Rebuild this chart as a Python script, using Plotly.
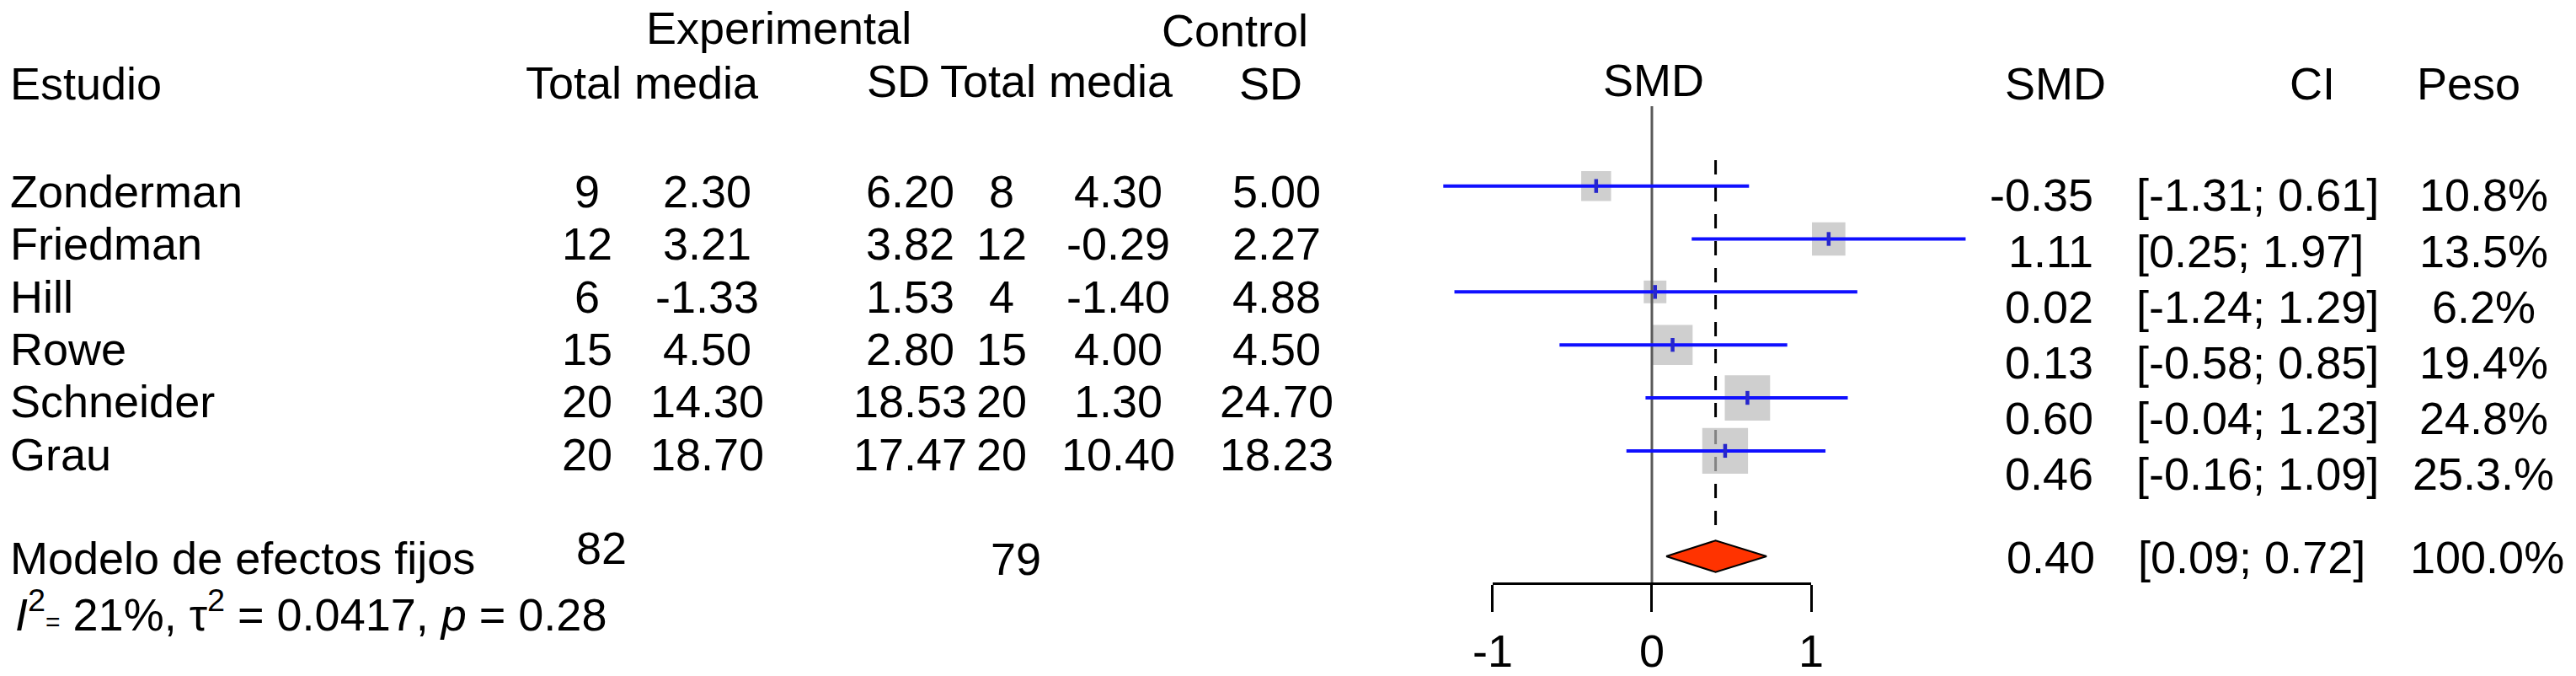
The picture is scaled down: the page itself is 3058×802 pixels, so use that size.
import math
import plotly.graph_objects as go

# ---------------- data ----------------
studies = ["Zonderman", "Friedman", "Hill", "Rowe", "Schneider", "Grau"]
exp_total = [9, 12, 6, 15, 20, 20]
exp_mean = ["2.30", "3.21", "-1.33", "4.50", "14.30", "18.70"]
exp_sd = ["6.20", "3.82", "1.53", "2.80", "18.53", "17.47"]
ctrl_total = [8, 12, 4, 15, 20, 20]
ctrl_mean = ["4.30", "-0.29", "-1.40", "4.00", "1.30", "10.40"]
ctrl_sd = ["5.00", "2.27", "4.88", "4.50", "24.70", "18.23"]
smd = [-0.35, 1.11, 0.02, 0.13, 0.60, 0.46]
ci_lo = [-1.31, 0.25, -1.24, -0.58, -0.04, -0.16]
ci_hi = [0.61, 1.97, 1.29, 0.85, 1.23, 1.09]
weight = [10.8, 13.5, 6.2, 19.4, 24.8, 25.3]
weight_labels = ["10.8%", "13.5%", "6.2%", "19.4%", "24.8%", "25.3.%"]
pooled_label = "Modelo de efectos fijos"
pooled_smd = 0.40
pooled_lo = 0.09
pooled_hi = 0.72
pooled_weight_label = "100.0%"
exp_n_total = 82
ctrl_n_total = 79
heterogeneity = ("<i>I</i><sup>2</sup><span style='font-size:30px'>=</span> 21%, "
                 "\u03c4<sup>2</sup> = 0.0417, <i>p</i> = 0.28")
x_tick_vals = [-1, 0, 1]
x_tick_text = ["-1", "0", "1"]

# ---------------- layout constants ----------------
W, H = 3058, 802
FONT = "Liberation Sans, Arial, Helvetica, sans-serif"
FS = 54
ROW0_PX, ROW_PX = 224.0, 63.8          # forest rows
X_ZERO_PX, X_UNIT_PX = 1962.0, 191.5    # forest x scale
LEFT_PX = -14                           # left edge of the study column


def yrow(px):
    return (px - ROW0_PX) / ROW_PX


x0 = -X_ZERO_PX / X_UNIT_PX
x1 = x0 + W / X_UNIT_PX
y_top = yrow(0)
y_bot = yrow(H)

rows = list(range(len(studies)))
left_text_y = [230.0 + 63.43 * i for i in rows]
right_text_y = [235.0 + 67.14 * i for i in rows]
sum_row = yrow(670)

fig = go.Figure()

# dashed pooled line
fig.add_trace(go.Scatter(x=[pooled_smd, pooled_smd], y=[yrow(193), yrow(635)], mode="lines",
                         line=dict(color="black", width=3, dash="17px,15px"), hoverinfo="skip"))
# squares
fig.add_trace(go.Scatter(x=smd, y=rows, mode="markers",
                         marker=dict(symbol="square", color="#bababa",
                                     size=[10.8 * math.sqrt(w) for w in weight], line=dict(width=0)),
                         hoverinfo="skip"))
# zero line
fig.add_trace(go.Scatter(x=[0, 0], y=[yrow(128), yrow(703)], mode="lines",
                         line=dict(color="#5a5a5a", width=3), hoverinfo="skip"))
# CI lines
cx, cy = [], []
for lo, hi, r in zip(ci_lo, ci_hi, rows):
    cx += [lo, hi, None]
    cy += [r, r, None]
fig.add_trace(go.Scatter(x=cx, y=cy, mode="lines", line=dict(color="#1010ff", width=4),
                         hoverinfo="skip"))
# estimate ticks
tx, ty = [], []
for s, r in zip(smd, rows):
    tx += [s, s, None]
    ty += [r - 0.13, r + 0.13, None]
fig.add_trace(go.Scatter(x=tx, y=ty, mode="lines", line=dict(color="#2626cc", width=4.5),
                         hoverinfo="skip"))
# diamond
h = 19.0 / ROW_PX
fig.add_trace(go.Scatter(x=[pooled_lo, pooled_smd, pooled_hi, pooled_smd, pooled_lo],
                         y=[sum_row, sum_row - h, sum_row, sum_row + h, sum_row],
                         mode="lines", fill="toself", fillcolor="#ff3300",
                         line=dict(color="black", width=2), hoverinfo="skip"))
# invisible trace for the bottom axis
fig.add_trace(go.Scatter(x=[-1, 1], y=[sum_row, sum_row], xaxis="x2", yaxis="y",
                         mode="lines", line=dict(width=0), opacity=0, hoverinfo="skip"))

ann = []


def add(text, xpx, ypx, anchor="center"):
    ann.append(dict(text=text, x=xpx / W, xref="paper", y=yrow(ypx), yref="y",
                    xanchor=anchor, yanchor="middle", showarrow=False,
                    font=dict(family=FONT, size=FS, color="black")))


# headers
add("Experimental", 751, 34, "left")
add("Control", 1370, 37, "left")
add("Estudio", LEFT_PX, 100, "left")
add("Total media", 606, 99, "left")
add("SD", 1016, 97, "left")
add("Total media", 1104, 97, "left")
add("SD", 1464, 101, "left")
add("SMD", 1964, 96)
add("SMD", 2447, 100)
add("CI", 2756, 100)
add("Peso", 2944, 100)

COL_EXP_N, COL_EXP_MEAN, COL_EXP_SD = 682, 826, 1070
COL_CTRL_N, COL_CTRL_MEAN, COL_CTRL_SD = 1180, 1320, 1511

for i in rows:
    yl = left_text_y[i]
    add(studies[i], LEFT_PX, yl, "left")
    add(str(exp_total[i]), COL_EXP_N, yl)
    add(exp_mean[i], COL_EXP_MEAN, yl)
    add(exp_sd[i], COL_EXP_SD, yl)
    add(str(ctrl_total[i]), COL_CTRL_N, yl)
    add(ctrl_mean[i], COL_CTRL_MEAN, yl)
    add(ctrl_sd[i], COL_CTRL_SD, yl)
    yr = right_text_y[i]
    add(f"{smd[i]:.2f}", 2495, yr, "right")
    add(f"[{ci_lo[i]:.2f}; {ci_hi[i]:.2f}]", 2542, yr, "left")
    add(weight_labels[i], 2962, yr)

add(pooled_label, LEFT_PX, 672, "left")
add(str(exp_n_total), 699, 660)
add(str(ctrl_n_total), 1197, 673)
add(f"{pooled_smd:.2f}", 2497, 671, "right")
add(f"[{pooled_lo:.2f}; {pooled_hi:.2f}]", 2544, 671, "left")
add(pooled_weight_label, 2966, 671)
add(heterogeneity, LEFT_PX + 6, 736, "left")

fig.update_layout(
    width=W, height=H, margin=dict(l=0, r=0, t=0, b=0),
    paper_bgcolor="white", plot_bgcolor="rgba(0,0,0,0)",
    showlegend=False, annotations=ann,
    font=dict(family=FONT, size=FS, color="black"),
    xaxis=dict(range=[x0, x1], domain=[0, 1], visible=False, fixedrange=True),
    yaxis=dict(range=[y_bot, y_top], domain=[0, 1], visible=False, fixedrange=True),
    xaxis2=dict(domain=[(X_ZERO_PX - X_UNIT_PX) / W, (X_ZERO_PX + X_UNIT_PX) / W],
                range=[-1, 1], anchor="free", position=1 - 703 / H,
                tickvals=x_tick_vals, ticktext=x_tick_text, ticks="outside",
                ticklen=32, tickwidth=3, tickcolor="black",
                showline=True, linewidth=3, linecolor="black", showgrid=False,
                zeroline=False, tickfont=dict(family=FONT, size=FS, color="black"),
                fixedrange=True),
)

fig.write_html("out.html", config={"displayModeBar": False},
               post_script="document.body.style.margin='0px';")
